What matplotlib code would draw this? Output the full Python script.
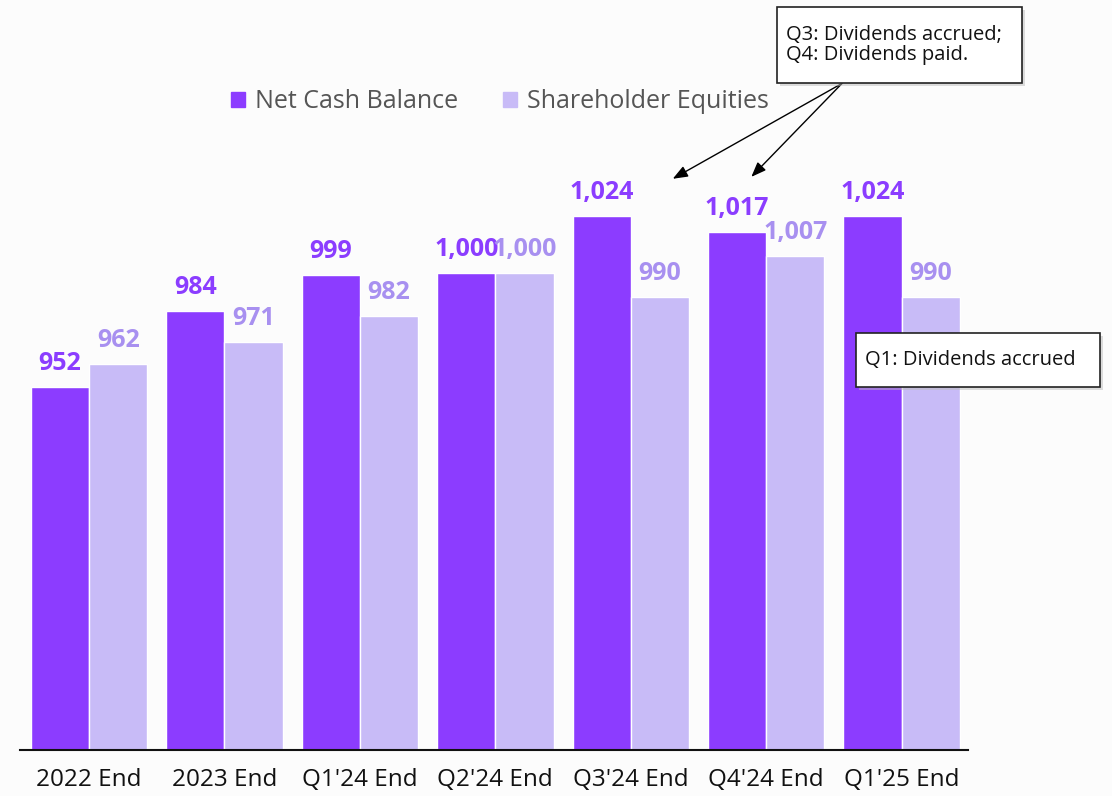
import matplotlib.pyplot as plt
from matplotlib.patches import Rectangle, Patch
import numpy as np

periods = ["2022 End", "2023 End", "Q1'24 End", "Q2'24 End",
           "Q3'24 End", "Q4'24 End", "Q1'25 End"]
net_cash = [952, 984, 999, 1000, 1024, 1017, 1024]
equities = [962, 971, 982, 1000, 990, 1007, 990]

DARK = '#8C3CFF'
LIGHT = '#C8BBF7'
DARK_TXT = '#8B3DFF'
LIGHT_TXT = '#A890F0'

plt.rcParams['font.family'] = ['Open Sans', 'DejaVu Sans']

fig = plt.figure(figsize=(11.12, 7.96), dpi=100)
fig.patch.set_facecolor('#FCFCFC')
ax = fig.add_axes([20 / 1112, 46 / 796, 948 / 1112, 700 / 796])
ax.set_facecolor('none')

x = np.arange(len(periods))
w = 0.43
b1 = ax.bar(x - w / 2, [v - 800 for v in net_cash], w, bottom=800,
            color=DARK, edgecolor='white', linewidth=1)
b2 = ax.bar(x + w / 2, [v - 800 for v in equities], w, bottom=800,
            color=LIGHT, edgecolor='white', linewidth=1)

for xi, v in zip(x, net_cash):
    ax.annotate(f"{v:,}", (xi - w / 2, v), xytext=(0, 8), textcoords='offset points',
                ha='center', va='bottom', fontsize=18, fontweight='bold', color=DARK_TXT)
for xi, v in zip(x, equities):
    ax.annotate(f"{v:,}", (xi + w / 2, v), xytext=(0, 8), textcoords='offset points',
                ha='center', va='bottom', fontsize=18, fontweight='bold', color=LIGHT_TXT)

ax.set_xlim(-0.51, 6.49)
ax.set_ylim(800, 1093.5)
ax.set_xticks(x)
ax.set_xticklabels(periods, fontsize=17.5, color='#111111')
ax.tick_params(axis='x', length=0, pad=13)
ax.set_yticks([])
for s in ['top', 'left', 'right']:
    ax.spines[s].set_visible(False)
ax.spines['bottom'].set_linewidth(1.5)
ax.spines['bottom'].set_color('#111111')

handles = [Patch(color=DARK, label='Net Cash Balance'),
           Patch(color=LIGHT, label='Shareholder Equities')]
fig.legend(handles=handles, loc='center', bbox_to_anchor=(500 / 1112, 1 - 102 / 796),
           ncol=2, frameon=False, fontsize=18, handlelength=0.56, handleheight=0.56,
           handletextpad=0.4, columnspacing=1.8, labelcolor='#555555')


# callout boxes with a soft shadow
def callout(x0, y0, x1, y1, text):
    fx0, fx1 = x0 / 1112, x1 / 1112
    fy0, fy1 = 1 - y1 / 796, 1 - y0 / 796
    fig.patches.append(Rectangle((fx0 + 3 / 1112, fy0 - 3 / 796), fx1 - fx0, fy1 - fy0,
                                 transform=fig.transFigure, facecolor='#BBBBBB',
                                 edgecolor='none', alpha=0.5, zorder=4))
    fig.patches.append(Rectangle((fx0, fy0), fx1 - fx0, fy1 - fy0,
                                 transform=fig.transFigure, facecolor='white',
                                 edgecolor='#222222', linewidth=1.2, zorder=5))
    fig.text(fx0 + 9 / 1112, (fy0 + fy1) / 2, text, transform=fig.transFigure,
             ha='left', va='center', fontsize=14.5, color='#111111', zorder=6,
             linespacing=1.0)


callout(777, 7, 1022, 83, "Q3: Dividends accrued;\nQ4: Dividends paid.")
callout(856, 333, 1100, 387, "Q1: Dividends accrued")

# arrows from the upper box
start = (5.56, 1079.5)
for tip in [(4.31, 1039.5), (4.89, 1040.3)]:
    ax.annotate('', xy=tip, xytext=start, annotation_clip=False,
                arrowprops=dict(arrowstyle='-|>,head_length=0.9,head_width=0.35',
                                color='black', lw=1.0, shrinkA=0, shrinkB=0))

fig.savefig('out.png', dpi=100, facecolor=fig.get_facecolor())
